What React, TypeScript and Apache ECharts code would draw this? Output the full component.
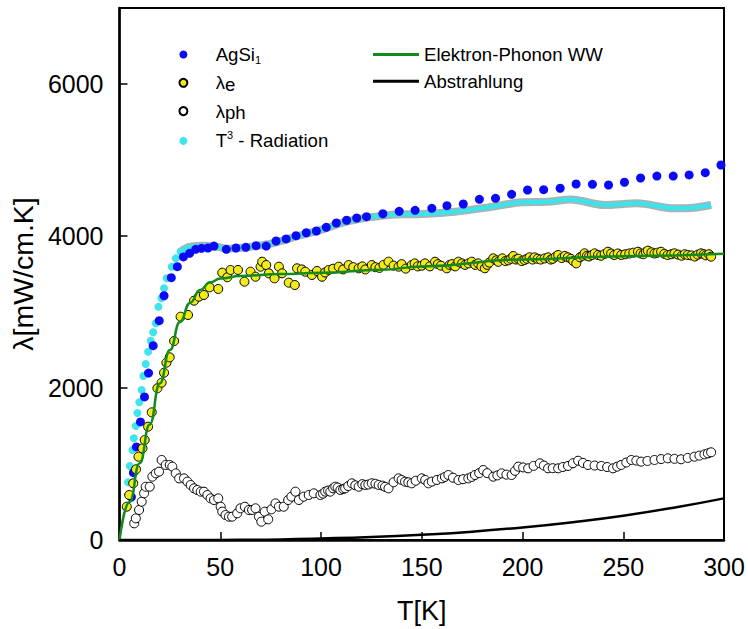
import React, { useEffect, useRef } from "react";
import * as echarts from "echarts";

const FONT = "'Liberation Sans', Arial, Helvetica, sans-serif";

// ---- Data (T in K, λ in mW/cm.K) ----
const agSi1: [number, number][] = [
  [5.9, 566], [6.9, 886], [8.4, 1224], [10.4, 1553], [12.4, 1882], [14.4, 2197],
  [16.7, 2557], [19.7, 2886], [22.1, 3214], [25.7, 3451], [28.7, 3596], [31.7, 3724],
  [34.8, 3772], [37.8, 3825], [40.7, 3838], [43.9, 3842], [46.9, 3868], [53, 3825],
  [57.8, 3842], [62.7, 3851], [67.8, 3872], [72.8, 3868], [77.7, 3934], [82.7, 3961],
  [87.6, 4004], [92.7, 4043], [97.7, 4066], [102.6, 4114], [107.6, 4171], [112.7, 4207],
  [117.7, 4237], [122.6, 4254], [130.7, 4293], [138.8, 4325], [146.7, 4338], [155, 4364],
  [162.5, 4399], [170.6, 4421], [178.6, 4483], [186.6, 4496], [194.6, 4549], [202.5, 4605],
  [210.5, 4609], [218.7, 4628], [226.6, 4684], [234.7, 4680], [242.7, 4671], [250.6, 4707],
  [258.6, 4763], [266.7, 4789], [274.8, 4789], [282.7, 4803], [290.7, 4833], [298.5, 4934],
];

const radiationDots: [number, number][] = [
  [4.2, 760], [5.1, 974], [6.4, 1184], [7.1, 1338], [8.1, 1500], [8.9, 1671], [9.8, 1812],
  [11, 1974], [11.8, 2158], [13, 2316], [14.2, 2478], [15.5, 2622], [16.7, 2733],
  [18, 2851], [19.3, 3070], [20.8, 3180], [22.1, 3312], [23.4, 3443], [25.9, 3596],
  [27.9, 3706], [30.3, 3793],
];

const radiationBand: [number, number][] = [
  [30.3, 3793], [33, 3840], [36, 3862], [40, 3872], [45, 3868], [50, 3850], [53, 3832],
  [57, 3838], [62, 3850], [68, 3870], [75, 3900], [82, 3950], [90, 4010], [100, 4080],
  [110, 4170], [120, 4230], [130, 4265], [140, 4285], [150, 4290], [166.5, 4320],
  [183, 4377], [199.5, 4443], [212, 4450], [224, 4480], [240.8, 4408], [257, 4430],
  [275, 4364], [285, 4372], [293.6, 4408],
];

const lambdaE: [number, number][] = [
  [3.6, 438], [4.8, 592], [6.8, 746], [8.2, 930], [9.4, 1096], [11.4, 1206], [12.5, 1316],
  [14.2, 1491], [16, 1680], [18.8, 1996], [20.9, 2070], [22.1, 2201], [23.3, 2333],
  [24.9, 2404], [27.1, 2618], [30.3, 2938], [34, 2961], [37, 3149], [39.4, 3201],
  [41.9, 3224], [44.7, 3325], [49, 3303], [51, 3517], [53.5, 3457], [55.1, 3553],
  [58.8, 3553], [62, 3399], [65, 3530], [67.5, 3464], [70, 3596], [70.8, 3662],
  [72.8, 3618], [74.1, 3509], [76.9, 3443], [79.1, 3596], [80.7, 3509], [84, 3386],
  [87, 3355], [88.1, 3575], [90.5, 3560], [92.2, 3530], [95.5, 3487], [98, 3540],
  [100.5, 3464], [102, 3520], [103.8, 3553], [106, 3570], [108.8, 3596], [111, 3560],
  [113.7, 3618], [116, 3590], [118.7, 3575], [120.5, 3600], [122, 3560], [125.2, 3618],
  [127, 3590], [129, 3580], [131, 3620], [133.5, 3662], [136, 3610], [138.5, 3596],
  [140, 3630], [142, 3570], [145, 3618], [146.5, 3640], [148, 3600], [150, 3610],
  [151.6, 3640], [154, 3600], [156.6, 3662], [158, 3630], [159.5, 3610], [162.4, 3575],
  [163.8, 3620], [165, 3630], [166.6, 3600], [168.2, 3662], [170, 3640], [171.5, 3620],
  [173.2, 3640], [174.8, 3662], [176.5, 3620], [178, 3640], [179.6, 3600], [181.3, 3575],
  [182.5, 3620], [183.5, 3650], [185.5, 3706], [187, 3680], [188, 3660], [190, 3706],
  [191.5, 3670], [193, 3680], [194.2, 3700], [195.4, 3737], [196.8, 3690], [198, 3700],
  [199.6, 3670], [201, 3684], [202.2, 3700], [203.5, 3720], [205, 3690], [206, 3719],
  [207.5, 3700], [209, 3690], [211, 3705], [212.7, 3719], [214, 3690], [215, 3700],
  [216.5, 3730], [217.7, 3750], [219.5, 3710], [221, 3737], [222.5, 3720], [224, 3700],
  [225.2, 3670], [226.7, 3640], [228.5, 3720], [229.8, 3740], [230.8, 3772], [232, 3740],
  [233, 3730], [234.5, 3750], [235.8, 3772], [237.5, 3750], [239, 3740], [240.8, 3765],
  [242.4, 3793], [244, 3770], [245.5, 3750], [247.3, 3770], [249, 3750], [251, 3760],
  [253, 3770], [255, 3780], [257.3, 3793], [258.6, 3770], [260, 3760], [261.2, 3790],
  [262.2, 3807], [264, 3785], [265.5, 3770], [267, 3780], [268.8, 3793], [270.4, 3765],
  [272, 3750], [273.8, 3760], [275.4, 3772], [277.2, 3755], [279, 3740], [280.5, 3760],
  [282, 3750], [283.8, 3745], [285.5, 3730], [287, 3755], [288.6, 3772], [290, 3760],
  [291, 3745], [292.5, 3760], [293.6, 3728],
];

const lambdaPh: [number, number][] = [
  [7.3, 219], [8.1, 285], [9.7, 395], [11, 504], [12.2, 614], [13, 701], [15, 701],
  [16.3, 833], [18, 877], [19.6, 899], [20.9, 1053], [22.9, 987], [24.9, 987], [26.2, 965],
  [27.9, 877], [29.6, 811], [32, 811], [33.7, 768], [35.3, 724], [37, 680], [38.6, 658],
  [40.3, 636], [41.9, 636], [43.6, 592], [45.2, 548], [46.9, 526], [49, 548], [50.2, 438],
  [51, 373], [52.6, 329], [54.3, 307], [55.9, 307], [58.4, 351], [60, 417], [62.2, 438],
  [64.2, 395], [65.8, 395], [67.5, 417], [69.2, 307], [70.4, 241], [72.1, 373], [73.8, 272],
  [75.4, 404], [77.4, 482], [79.1, 438], [81.5, 438], [83.7, 526], [85.3, 570], [87.3, 636],
  [89, 526], [91.4, 570], [93.9, 592], [96.4, 614], [99.7, 592], [101, 610], [102.1, 636],
  [103.5, 650], [104.6, 636], [106, 680], [107.1, 701], [108.3, 690], [109.6, 658],
  [111, 670], [112, 680], [113.5, 710], [115.3, 746], [117, 720], [118.7, 701],
  [120.5, 735], [122, 724], [123.5, 730], [125.2, 746], [127, 740], [128.6, 724],
  [130.5, 715], [131.8, 700], [133.5, 680], [136, 760], [138.5, 811], [140, 790],
  [141.7, 768], [143.3, 760], [145, 746], [147, 780], [150, 811], [151.7, 790],
  [153.3, 746], [155, 768], [157.5, 790], [160, 811], [161.5, 830], [163.2, 855],
  [165.5, 820], [168.2, 789], [170.5, 800], [173.1, 811], [174.8, 830], [176.4, 855],
  [178.5, 880], [180.5, 921], [182.5, 880], [185.5, 833], [187.5, 850], [189.6, 877],
  [192, 860], [194.6, 855], [196.3, 910], [197.9, 965], [200.3, 955], [202.8, 943],
  [205.5, 975], [208.6, 1009], [210.6, 980], [212.7, 943], [215, 945], [217.7, 943],
  [220, 960], [222.6, 974], [225, 1010], [227.6, 1043], [230, 1015], [232.5, 987],
  [235.8, 980], [239.1, 974], [242, 960], [244.9, 943], [247, 965], [249, 987],
  [251.5, 1020], [254, 1053], [256.5, 1045], [258.9, 1031], [262, 1040], [265.5, 1053],
  [268.8, 1065], [272.1, 1075], [275.4, 1068], [278.7, 1062], [282, 1080], [285.3, 1096],
  [287.8, 1110], [290.3, 1127], [292, 1140], [293.6, 1154],
];

const electronPhononFit: [number, number][] = [
  [0, 0], [5, 500], [10, 1010], [15, 1520], [20, 2060], [25, 2500], [30, 2870], [35, 3120],
  [40, 3290], [45, 3390], [50, 3440], [60, 3475], [80, 3500], [100, 3515], [130, 3555],
  [150, 3600], [200, 3690], [250, 3735], [300, 3765],
];

const radiationLoss: [number, number][] = [
  [0, 0], [40, 0], [60, 3], [80, 8], [100, 20], [125, 40], [150, 70], [175, 110],
  [200, 165], [225, 235], [250, 320], [275, 425], [300, 548],
];

const xRange = { min: 0, max: 300, interval: 50 };
const yRange = { min: 0, max: 7000, interval: 2000 };

const legendScatterNames = ["AgSi1", "λe", "λph", "T3 - Radiation"];
const legendLineNames = ["Elektron-Phonon WW", "Abstrahlung"];
const legendRich: Record<string, string> = {
  "AgSi1": "{n|AgSi}{sub|1}",
  "λe": "{n|λ}{lo|e}",
  "λph": "{n|λ}{lo|ph}",
  "T3 - Radiation": "{n|T}{sup|3}{n| - Radiation}",
  "Elektron-Phonon WW": "{n|Elektron-Phonon WW}",
  "Abstrahlung": "{n|Abstrahlung}",
};

export default function App() {
  const ref = useRef<HTMLDivElement>(null);
  useEffect(() => {
    if (!ref.current) return;
    const chart = echarts.init(ref.current, undefined, { renderer: "svg" });
    const rich = {
      n: { fontSize: 18.6, lineHeight: 22, fontFamily: FONT, color: "#000" },
      sub: { fontSize: 11, lineHeight: 8, verticalAlign: "bottom", fontFamily: FONT, color: "#000" },
      lo: { fontSize: 18.6, lineHeight: 6, verticalAlign: "bottom", fontFamily: FONT, color: "#000" },
      sup: { fontSize: 11, lineHeight: 10, verticalAlign: "top", fontFamily: FONT, color: "#000" },
    };
    const legendBase = {
      orient: "vertical",
      padding: 0,
      itemGap: 7.8,
      itemHeight: 8,
      formatter: (name: string) => legendRich[name] ?? name,
      textStyle: { fontSize: 18.6, fontFamily: FONT, color: "#000", rich },
      selectedMode: false,
    };
    const axisCommon = {
      axisLine: { show: true, lineStyle: { color: "#000", width: 2.5 } },
      axisTick: { show: true, inside: true, length: 8, lineStyle: { color: "#000", width: 1.5 } },
      splitLine: { show: false },
    };
    chart.setOption({
      animation: false,
      backgroundColor: "#fff",
      grid: { left: 117, right: 24, top: 8, bottom: 89, show: true, borderColor: "#000", borderWidth: 2 },
      legend: [
        {
          ...legendBase, left: 178.4, top: 45, itemWidth: 54.6,
          data: legendScatterNames,
        },
        {
          ...legendBase, left: 373, top: 45, itemWidth: 46, itemHeight: 3,
          data: legendLineNames.map((name) => ({ name, icon: "rect" })),
        },
      ],
      xAxis: {
        type: "value",
        ...xRange,
        ...axisCommon,
        name: "T[K]",
        nameLocation: "middle",
        nameGap: 57,
        nameTextStyle: { fontSize: 27, fontFamily: FONT, color: "#000" },
        axisLabel: { fontSize: 25, fontFamily: FONT, color: "#000", margin: 14, formatter: (v: number) => String(v) },
      },
      yAxis: {
        type: "value",
        ...yRange,
        ...axisCommon,
        name: "λ[mW/cm.K]",
        nameLocation: "middle",
        nameGap: 58,
        nameTextStyle: { fontSize: 28.5, fontFamily: FONT, color: "#000" },
        axisLabel: { fontSize: 25, fontFamily: FONT, color: "#000", margin: 16, showMaxLabel: false, formatter: (v: number) => String(v) },
      },
      series: [
        {
          type: "line", name: "bandOutline", data: radiationBand, symbol: "none", smooth: 0.3,
          lineStyle: { color: "#a9b3b3", width: 8 }, z: 1, silent: true,
        },
        {
          type: "line", name: "bandCore", data: radiationBand, symbol: "none", smooth: 0.3,
          lineStyle: { color: "#3de3ea", width: 4.5 }, z: 2, silent: true,
        },
        {
          type: "scatter", name: "T3 - Radiation", data: radiationDots, symbolSize: 8,
          itemStyle: { color: "#3fe4ec", opacity: 1 }, z: 3,
        },
        {
          type: "scatter", name: "AgSi1", data: agSi1, symbolSize: 9,
          itemStyle: { color: "#0a0af5", opacity: 1 }, z: 4,
        },
        {
          type: "scatter", name: "λph", data: lambdaPh, symbolSize: 9,
          itemStyle: { color: "#ffffff", borderColor: "#000", borderWidth: 1, opacity: 1 }, z: 4,
        },
        {
          type: "scatter", name: "λe", data: lambdaE, symbolSize: 9,
          itemStyle: { color: "#f2ea1a", borderColor: "#000", borderWidth: 1, opacity: 1 }, z: 5,
        },
        {
          type: "line", name: "Elektron-Phonon WW", data: electronPhononFit, symbol: "none",
          smooth: true, smoothMonotone: "x",
          lineStyle: { color: "#128a1c", width: 2.5 }, itemStyle: { color: "#128a1c" }, z: 6,
        },
        {
          type: "line", name: "Abstrahlung", data: radiationLoss, symbol: "none",
          smooth: 0.5,
          lineStyle: { color: "#000", width: 2.5 }, itemStyle: { color: "#000" }, z: 6,
        },
      ],
    });
    return () => chart.dispose();
  }, []);
  return (
    <div
      ref={ref}
      style={{ position: "absolute", left: 0, top: 0, width: 748, height: 629 }}
    />
  );
}
